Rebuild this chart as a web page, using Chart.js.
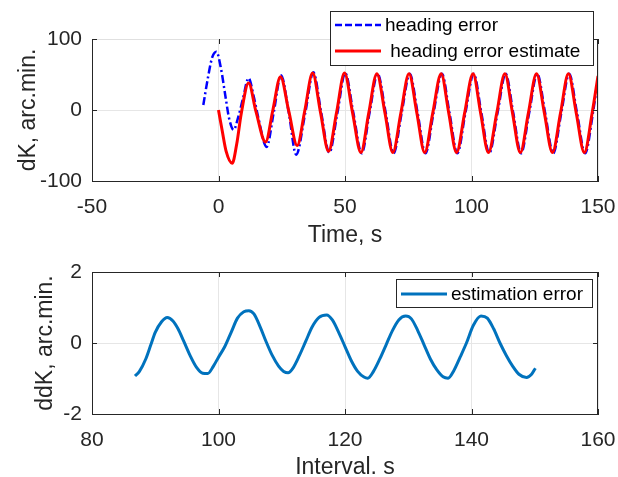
<!DOCTYPE html>
<html>
<head>
<meta charset="utf-8">
<script src="https://cdn.jsdelivr.net/npm/chart.js@4/dist/chart.umd.min.js"></script>
<style>
  html, body { margin: 0; padding: 0; background: #fff; }
  #wrap { position: relative; width: 618px; height: 477px; }
  canvas { position: absolute; left: 0; }
  #top { top: 0; }
  #bottom { top: 250px; }
</style>
</head>
<body>
<div id="wrap">
  <canvas id="top" width="618" height="250"></canvas>
  <canvas id="bottom" width="618" height="227"></canvas>
</div>
<script>
// heading error (blue, dash-dot)
const timeErr = [-6, -4.2, -2.5, -0.8, 1, 2.8, 4.2, 6, 7.8, 9.6,
  11.9, 14, 15.8, 19, 21.9, 24.7, 27.8, 30.7, 34.3, 37.5,
  40.6, 43.8, 47.0, 50.1, 53.3, 56.6, 59.7, 62.9, 66.1, 69.2,
  72.4, 75.6, 78.7, 81.8, 85.0, 88.3, 91.3, 94.4, 97.6, 100.9,
  103.9, 107.0, 110.3, 113.5, 116.5, 119.6, 122.8, 126.0, 129.1, 132.3,
  135.5, 138.6, 141.7, 144.9, 148.0, 150];
const headingErr = [7, 45, 74, 82, 58, 18, -12, -28, -10, 15,
  45, 18, -12, -52, -2, 49, -4, -63, -4, 53,
  -4, -60, -4, 52, -4, -61, -4, 51, -4, -61,
  -4, 51, -4, -61, -4, 51, -4, -61, -4, 51,
  -4, -61, -4, 51, -4, -61, -4, 51, -4, -61,
  -4, 51, -4, -61, -4, 46];

// heading error estimate (red)
const timeEst = [0, 1.5, 3, 5.4, 7.2, 9, 11.9, 14.8, 18.6, 21.5,
  24.5, 27.8, 31.1, 34.1, 37.2, 40.3, 43.5, 46.7, 49.8, 53.0,
  56.3, 59.4, 62.6, 65.8, 68.9, 72.1, 75.3, 78.4, 81.5, 84.7,
  88.0, 91.0, 94.1, 97.3, 100.6, 103.6, 106.7, 110.0, 113.2, 116.2,
  119.3, 122.5, 125.7, 128.8, 132.0, 135.2, 138.3, 141.4, 144.6, 147.7, 150];
const headingEst = [0, -30, -58, -75, -48, -5, 38, -2, -45, 0,
  47, -2, -50, -1, 52, -3, -58, -3, 52, -4,
  -60, -4, 51, -4, -60, -4, 51, -4, -60, -4,
  51, -4, -60, -4, 51, -4, -60, -4, 51, -4,
  -60, -4, 51, -4, -60, -4, 51, -4, -60, -4, 48];

// estimation error (bottom panel)
const interval = [86.8, 87.5, 88.5, 89.3, 90.0, 91.0, 91.9, 92.8, 93.6, 94.5,
  95.5, 96.5, 97.5, 98.3, 99.2, 100.0, 101.0, 102.0, 103.0, 104.0,
  104.8, 105.6, 106.6, 107.5, 108.5, 109.5, 110.3, 111.0, 111.8, 112.8,
  113.8, 114.8, 115.9, 117.1, 118.0, 119.0, 120.0, 121.0, 122.0, 123.0,
  123.6, 124.5, 125.5, 126.5, 127.5, 128.5, 129.6, 130.5, 131.5, 132.5,
  133.5, 134.5, 135.5, 136.3, 137.2, 138.2, 139.2, 140.3, 141.5, 142.5,
  143.5, 144.5, 145.5, 146.5, 147.5, 148.7, 149.5, 150.1];
const estError = [-0.93, -0.80, -0.45, -0.05, 0.30, 0.60, 0.72, 0.62, 0.40, 0.05,
  -0.35, -0.68, -0.85, -0.86, -0.65, -0.40, -0.10, 0.30, 0.70, 0.88,
  0.91, 0.82, 0.45, 0.05, -0.35, -0.65, -0.80, -0.84, -0.70, -0.35,
  0.05, 0.45, 0.72, 0.79, 0.65, 0.30, -0.10, -0.50, -0.80, -0.96,
  -0.99, -0.80, -0.45, -0.05, 0.35, 0.65, 0.76, 0.68, 0.35, -0.05,
  -0.45, -0.75, -0.95, -0.99, -0.78, -0.40, 0.00, 0.50, 0.76, 0.70,
  0.40, 0.00, -0.35, -0.65, -0.88, -0.97, -0.88, -0.71];

const timeTicks = [-50, 0, 50, 100, 150];
const dkTicks = [-100, 0, 100];
const intervalTicks = [80, 100, 120, 140, 160];
const ddkTicks = [-2, 0, 2];

const FONT = "'Liberation Sans', Arial, sans-serif";
const INK = '#262626';

function pts(xs, ys) {
  return xs.map((x, i) => ({ x: x, y: ys[i] }));
}

// axes box, inward ticks, axis titles and legend, MATLAB style
const framePlugin = {
  id: 'frame',
  afterDraw(chart, args, o) {
    const ctx = chart.ctx;
    const a = chart.chartArea;
    const sx = chart.scales.x, sy = chart.scales.y;
    ctx.save();
    ctx.lineWidth = 1;

    // top and right edges
    ctx.strokeStyle = o.topColor || INK;
    ctx.beginPath();
    ctx.moveTo(a.left, a.top + 0.5);
    ctx.lineTo(a.right, a.top + 0.5);
    ctx.stroke();
    ctx.strokeStyle = INK;
    ctx.beginPath();
    ctx.moveTo(a.right - 0.5, a.top);
    ctx.lineTo(a.right - 0.5, a.bottom);
    ctx.stroke();

    // inward tick marks
    ctx.beginPath();
    sx.ticks.forEach(t => {
      const px = Math.round(sx.getPixelForValue(t.value)) + 0.5;
      ctx.moveTo(px, a.bottom); ctx.lineTo(px, a.bottom - 5);
      ctx.moveTo(px, a.top); ctx.lineTo(px, a.top + 5);
    });
    sy.ticks.forEach(t => {
      const py = Math.round(sy.getPixelForValue(t.value)) + 0.5;
      ctx.moveTo(a.left, py); ctx.lineTo(a.left + 5, py);
      ctx.moveTo(a.right, py); ctx.lineTo(a.right - 5, py);
    });
    ctx.stroke();

    // axis titles
    ctx.fillStyle = INK;
    ctx.font = '23px ' + FONT;
    ctx.textAlign = 'center';
    ctx.textBaseline = 'middle';
    ctx.fillText(o.xTitle, (a.left + a.right) / 2, o.xTitleY);
    ctx.save();
    ctx.translate(o.yTitleX, (a.top + a.bottom) / 2);
    ctx.rotate(-Math.PI / 2);
    ctx.fillText(o.yTitle, 0, 0);
    ctx.restore();

    // legend
    const L = o.legend;
    ctx.fillStyle = '#fff';
    ctx.fillRect(L.x, L.y, L.w, L.h);
    ctx.strokeStyle = INK;
    ctx.strokeRect(L.x + 0.5, L.y + 0.5, L.w, L.h);
    ctx.font = '19px ' + FONT;
    ctx.textAlign = 'left';
    L.items.forEach((it, i) => {
      const y = L.y + L.first + i * L.step;
      ctx.strokeStyle = it.color;
      ctx.lineWidth = it.width;
      ctx.setLineDash(it.dash || []);
      ctx.beginPath();
      ctx.moveTo(L.x + 5, y);
      ctx.lineTo(L.x + 51, y);
      ctx.stroke();
      ctx.setLineDash([]);
      ctx.fillStyle = '#000';
      ctx.fillText(it.label, L.x + 55, y + 1);
    });
    ctx.restore();
  }
};

function axisOpts(min, max, tickList, width, height, isX) {
  return {
    type: 'linear',
    min: min,
    max: max,
    afterBuildTicks: s => { s.ticks = tickList.map(v => ({ value: v })); },
    afterFit: s => {
      if (isX) {
        s.height = height;
        s.paddingLeft = 0;
        s.paddingRight = 0;
      } else {
        s.width = width;
        s.paddingTop = 0;
        s.paddingBottom = 0;
      }
    },
    grid: { color: '#e6e6e6', drawTicks: false, lineWidth: 1 },
    border: { color: INK, width: 1 },
    ticks: {
      color: INK,
      padding: isX ? 14 : 10,
      font: { family: FONT, size: 21 },
      maxRotation: 0
    }
  };
}

new Chart(document.getElementById('top'), {
  type: 'line',
  data: {
    datasets: [{
      label: 'heading error estimate',
      data: pts(timeEst, headingEst),
      borderColor: '#ff0000',
      borderWidth: 3,
      pointRadius: 0,
      cubicInterpolationMode: 'monotone',
      order: 0
    }, {
      label: 'heading error',
      data: pts(timeErr, headingErr),
      borderColor: '#0000ff',
      borderWidth: 2.5,
      borderDash: [8, 3, 2, 3],
      pointRadius: 0,
      cubicInterpolationMode: 'monotone',
      order: 1
    }]
  },
  options: {
    responsive: false,
    animation: false,
    devicePixelRatio: 1,
    layout: { padding: { top: 39, right: 20, left: 0, bottom: 0 } },
    scales: {
      x: axisOpts(-50, 150, timeTicks, 0, 69, true),
      y: axisOpts(-100, 100, dkTicks, 92, 0, false)
    },
    plugins: {
      legend: { display: false },
      tooltip: { enabled: false },
      frame: {
        xTitle: 'Time, s',
        xTitleY: 236,
        yTitle: 'dK, arc.min.',
        yTitleX: 29,
        topColor: '#e0e0e0',
        legend: {
          x: 330, y: 11, w: 263, h: 54, first: 14, step: 26,
          items: [
            { label: 'heading error', color: '#0000ff', width: 2.5, dash: [7, 3] },
            { label: ' heading error estimate', color: '#ff0000', width: 3 }
          ]
        }
      }
    }
  },
  plugins: [framePlugin]
});

new Chart(document.getElementById('bottom'), {
  type: 'line',
  data: {
    datasets: [{
      label: 'estimation error',
      data: pts(interval, estError),
      borderColor: '#0072bd',
      borderWidth: 3,
      pointRadius: 0,
      cubicInterpolationMode: 'monotone'
    }]
  },
  options: {
    responsive: false,
    animation: false,
    devicePixelRatio: 1,
    layout: { padding: { top: 22, right: 20, left: 0, bottom: 0 } },
    scales: {
      x: axisOpts(80, 160, intervalTicks, 0, 63, true),
      y: axisOpts(-2, 2, ddkTicks, 92, 0, false)
    },
    plugins: {
      legend: { display: false },
      tooltip: { enabled: false },
      frame: {
        xTitle: 'Interval. s',
        xTitleY: 218,
        yTitle: 'ddK, arc.min.',
        yTitleX: 46,
        legend: {
          x: 396, y: 29, w: 196, h: 28, first: 15, step: 0,
          items: [
            { label: 'estimation error', color: '#0072bd', width: 3 }
          ]
        }
      }
    }
  },
  plugins: [framePlugin]
});
</script>
</body>
</html>
